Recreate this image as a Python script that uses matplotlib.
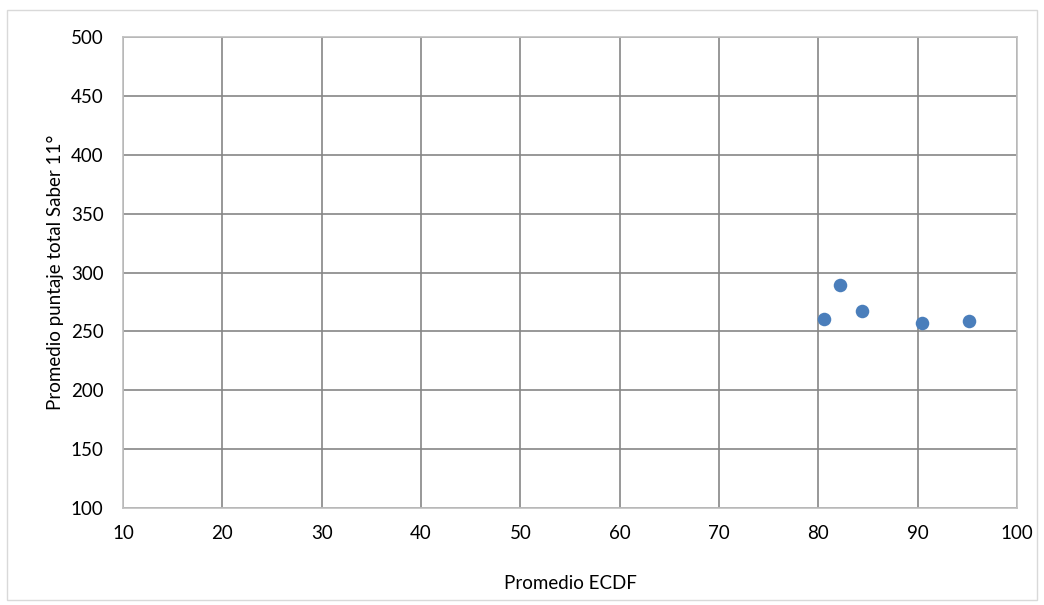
import matplotlib
matplotlib.use("Agg")
import matplotlib.pyplot as plt
from matplotlib.patches import Rectangle

# data
ecdf = [80.6, 82.2, 84.4, 90.4, 95.2]
saber = [260.3, 289.1, 267.6, 256.9, 258.8]
x_ticks = list(range(10, 101, 10))
y_ticks = list(range(100, 501, 50))

plt.rcParams["font.family"] = ["Lato", "DejaVu Sans"]
plt.rcParams["font.size"] = 13.5

fig = plt.figure(figsize=(10.44, 6.05), dpi=100)
ax = fig.add_axes([123 / 1044, 1 - 508 / 605, (1017 - 123) / 1044, (508 - 37) / 605])

fig.patches.append(Rectangle((7 / 1044, 1 - 600 / 605), 1030 / 1044, 590 / 605,
                             transform=fig.transFigure, fill=False,
                             edgecolor="#d9d9d9", linewidth=1))

ax.scatter(ecdf, saber, s=95, color="#4a7ebb", zorder=3, linewidths=0)

ax.set_xlim(10, 100)
ax.set_ylim(100, 500)
ax.set_xticks(x_ticks)
ax.set_yticks(y_ticks)
ax.grid(True, color="#868686", linewidth=1.2)
for sp in ax.spines.values():
    sp.set_color("#bfbfbf")
    sp.set_linewidth(1.2)
ax.tick_params(axis="y", length=0, pad=14, labelsize=13.5)
ax.tick_params(axis="x", length=0, pad=12, labelsize=13.5)

ax.set_xlabel("Promedio ECDF", fontsize=13.5, labelpad=24)
ax.set_ylabel("Promedio puntaje total Saber 11°", fontsize=13.5, labelpad=5)

fig.savefig("out.png", dpi=100)
